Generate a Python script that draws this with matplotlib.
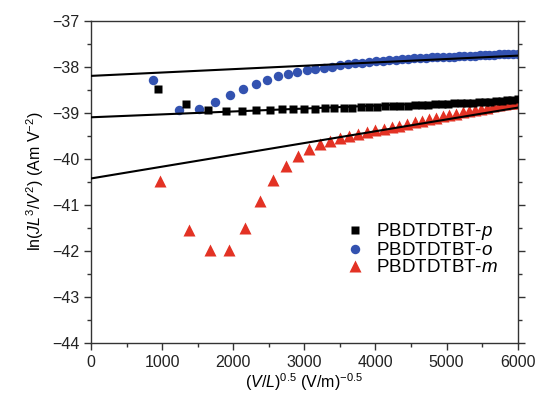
import numpy as np
import matplotlib.pyplot as plt
from matplotlib.ticker import MultipleLocator

plt.rcParams['font.family'] = ['Liberation Sans', 'DejaVu Sans']
plt.rcParams['mathtext.fontset'] = 'custom'
plt.rcParams['mathtext.rm'] = 'Liberation Sans'
plt.rcParams['mathtext.it'] = 'Liberation Sans:italic'

# data
x_p = [949, 1342, 1644, 1898, 2122, 2325, 2511, 2684, 2847, 3001, 3147, 3287,
       3422, 3551, 3675, 3796, 3913, 4026, 4137, 4244, 4349, 4451, 4551, 4649,
       4745, 4839, 4931, 5022, 5111, 5198, 5284, 5368, 5451, 5534, 5614, 5694,
       5773, 5850, 5926, 6002]
y_p = [-38.48, -38.82, -38.94, -38.96, -38.96, -38.94, -38.94, -38.93, -38.93,
       -38.92, -38.91, -38.90, -38.90, -38.89, -38.89, -38.88, -38.87, -38.87,
       -38.86, -38.86, -38.85, -38.85, -38.84, -38.84, -38.83, -38.82, -38.82,
       -38.81, -38.80, -38.80, -38.79, -38.78, -38.77, -38.77, -38.76, -38.75,
       -38.74, -38.73, -38.72, -38.71]

x_o = [875, 1237, 1516, 1750, 1957, 2143, 2315, 2475, 2625, 2767, 2902, 3031,
       3155, 3274, 3389, 3500, 3608, 3713, 3814, 3913, 4010, 4104, 4197, 4287,
       4375, 4462, 4547, 4631, 4712, 4792, 4872, 4950, 5027, 5102, 5176, 5250,
       5323, 5394, 5464, 5534, 5603, 5671, 5737, 5804, 5869, 5934, 5999]
y_o = [-38.29, -38.95, -38.91, -38.76, -38.61, -38.49, -38.37, -38.29, -38.21,
       -38.16, -38.12, -38.08, -38.06, -38.02, -38.00, -37.97, -37.95, -37.93,
       -37.91, -37.90, -37.88, -37.87, -37.86, -37.85, -37.84, -37.83, -37.82,
       -37.81, -37.81, -37.80, -37.79, -37.79, -37.78, -37.78, -37.77, -37.77,
       -37.76, -37.76, -37.75, -37.75, -37.74, -37.74, -37.73, -37.73, -37.72,
       -37.72, -37.72]

x_m = [970, 1372, 1680, 1940, 2169, 2376, 2566, 2744, 2910, 3067, 3217, 3360,
       3497, 3629, 3757, 3880, 3999, 4115, 4228, 4338, 4445, 4550, 4652, 4752,
       4850, 4946, 5040, 5133, 5224, 5313, 5401, 5487, 5572, 5656, 5739, 5820,
       5900, 5979]
y_m = [-40.49, -41.56, -41.99, -41.99, -41.50, -40.92, -40.47, -40.15, -39.94,
       -39.80, -39.69, -39.62, -39.56, -39.51, -39.47, -39.43, -39.38, -39.36,
       -39.32, -39.28, -39.24, -39.20, -39.17, -39.14, -39.11, -39.08, -39.05,
       -39.02, -38.99, -38.97, -38.94, -38.91, -38.89, -38.86, -38.84, -38.82,
       -38.80, -38.78]

# straight fit lines: value at x=0 and at x=6000
fit_x = [0, 6000]
fit_o = [-38.20, -37.76]
fit_p = [-39.10, -38.72]
fit_m = [-40.43, -38.89]

blue = '#3352b0'
red = '#e33224'

fig = plt.figure(figsize=(5.4, 3.94), dpi=100)
ax = fig.add_axes([0.1685, 0.1302, 0.7902, 0.8173])

ax.plot(x_p, y_p, 's', color='black', ms=5.4, mec='none', label='PBDTDTBT-$\\mathit{p}$', zorder=3)
ax.plot(x_o, y_o, 'o', color=blue, ms=6.8, mec='none', label='PBDTDTBT-$\\mathit{o}$', zorder=2)
ax.plot(x_m, y_m, '^', color=red, ms=8, mec='none', label='PBDTDTBT-$\\mathit{m}$', zorder=2)

for fy in (fit_o, fit_p, fit_m):
    ax.plot(fit_x, fy, '-', color='black', lw=1.5, zorder=4)

ax.set_xlim(0, 6000)
ax.set_ylim(-44, -37)
ax.xaxis.set_major_locator(MultipleLocator(1000))
ax.xaxis.set_minor_locator(MultipleLocator(500))
ax.yaxis.set_major_locator(MultipleLocator(1))
ax.yaxis.set_minor_locator(MultipleLocator(0.5))

for s in ax.spines.values():
    s.set_color('#333333')
    s.set_linewidth(1.0)

ax.tick_params(which='both', direction='out', colors='#333333', labelcolor='#222222',
               labelsize=11.5, top=False, right=True, labelright=False)
ax.tick_params(which='major', length=5, width=1.0)
ax.tick_params(which='minor', length=3, width=1.0)

ax.set_xlabel('($\\mathit{V}$/$\\mathit{L}$)$^{0.5}$ (V/m)$^{-0.5}$', fontsize=11.5, labelpad=1)
ax.set_ylabel('ln($\\mathit{JL}^3$/$\\mathit{V}^2$) (Am V$^{-2}$)', fontsize=11.5, labelpad=4)

ax.legend(loc='lower right', bbox_to_anchor=(0.984, 0.165), frameon=False, fontsize=13.5,
          handletextpad=0.5, labelspacing=0.0, handlelength=1.2, borderpad=0.2)

fig.savefig('out.png', dpi=100)
